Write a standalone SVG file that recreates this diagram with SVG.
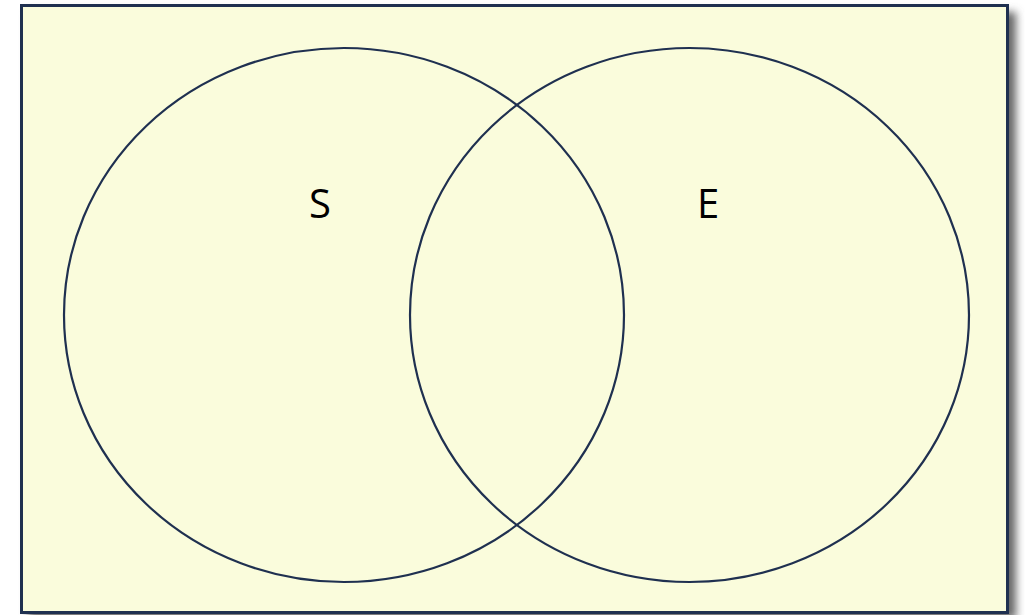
<svg xmlns="http://www.w3.org/2000/svg" width="1025" height="615" viewBox="0 0 1025 615">
<defs>
<filter id="sh" x="-5%" y="-5%" width="110%" height="110%"><feGaussianBlur stdDeviation="4"/></filter>
<style>
.set{fill:none;stroke:#1f3050;stroke-width:2.2}
.lbl{font-family:"Open Sans","Liberation Sans",sans-serif;font-size:40px;fill:#000;text-anchor:middle}
</style>
</defs>
<rect x="28" y="12" width="988" height="607" fill="#666" filter="url(#sh)"/>
<rect x="21.5" y="5.5" width="986" height="607" fill="#fafcdc" stroke="#1f3050" stroke-width="3"/>
<g id="setS">
<ellipse class="set" cx="344" cy="315" rx="280" ry="267"/>
<text class="lbl" x="320" y="218">S</text>
</g>
<g id="setE">
<ellipse class="set" cx="689.5" cy="315" rx="279.5" ry="267"/>
<text class="lbl" x="708" y="218">E</text>
</g>
<g id="connectors"/>
</svg>
